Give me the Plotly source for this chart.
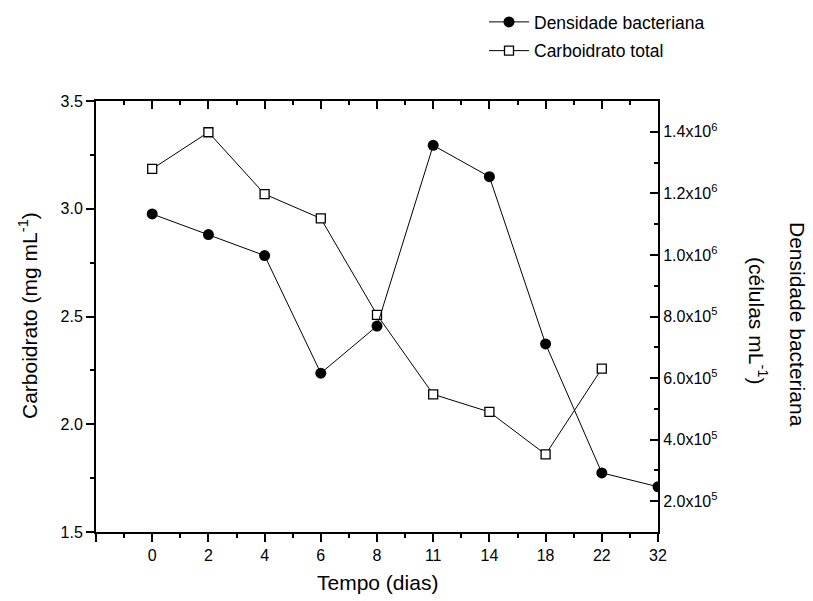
import plotly.graph_objects as go

# ---- data ----
days = ["0", "2", "4", "6", "8", "11", "14", "18", "22", "32"]
density = [1.133e6, 1.066e6, 0.998e6, 6.16e5, 7.69e5, 1.356e6, 1.254e6, 7.11e5, 2.92e5, 2.47e5]
carb = [3.185, 3.355, 3.068, 2.955, 2.508, 2.139, 2.057, 1.860, 2.258]

left_ticks = [1.5, 2.0, 2.5, 3.0, 3.5]
right_ticks = [2e5, 4e5, 6e5, 8e5, 1.0e6, 1.2e6, 1.4e6]
right_ticktext = ["2.0x10<sup>5</sup>", "4.0x10<sup>5</sup>", "6.0x10<sup>5</sup>",
                  "8.0x10<sup>5</sup>", "1.0x10<sup>6</sup>", "1.2x10<sup>6</sup>",
                  "1.4x10<sup>6</sup>"]

xpos = list(range(len(days)))
FONT = "Liberation Sans, Arial, sans-serif"

W, H = 813, 601
ML, MR, MT, MB = 96, 155, 101, 69
pw, ph = W - ML - MR, H - MT - MB

def px_x(px):
    return (px - ML) / pw

def px_y(py):
    return (H - MB - py) / ph

fig = go.Figure()
fig.add_trace(go.Scatter(
    x=xpos, y=density, name="Densidade bacteriana", mode="lines+markers",
    xaxis="x2", yaxis="y2",
    line=dict(color="black", width=1),
    marker=dict(symbol="circle", size=11, color="black"),
    legendgroup="a",
))
fig.add_trace(go.Scatter(
    x=xpos[:len(carb)], y=carb, name="Carboidrato total", mode="lines+markers",
    xaxis="x", yaxis="y",
    line=dict(color="black", width=1),
    marker=dict(symbol="square", size=9, color="white", line=dict(color="black", width=1.3)),
    legendgroup="b",
))

xr = [-1, len(days) - 1]
common_x = dict(range=xr, showgrid=False, zeroline=False, showline=True,
                linecolor="black", linewidth=2,
                tickmode="array", tickvals=list(range(-1, len(days))),
                ticktext=[""] + days, tickcolor="black", tickwidth=2, ticklen=8)

fig.update_layout(
    width=W, height=H,
    margin=dict(l=ML, r=MR, t=MT, b=MB, pad=0, autoexpand=False),
    paper_bgcolor="white", plot_bgcolor="white",
    font=dict(family=FONT, size=16, color="black"),
    showlegend=True,
    legend=dict(x=px_x(484), y=px_y(4), xanchor="left", yanchor="top",
                font=dict(size=17.5, family=FONT, color="black"),
                bgcolor="rgba(0,0,0,0)", tracegroupgap=3, traceorder="grouped",
                itemwidth=40),
    xaxis=dict(**common_x, side="bottom", anchor="y", ticks="outside",
               tickfont=dict(size=16),
               minor=dict(tickmode="linear", tick0=0, dtick=0.5, ticks="outside",
                          ticklen=4, tickwidth=2, tickcolor="black")),
    xaxis2=dict(**common_x, side="top", anchor="y", overlaying="x", ticks="inside",
                showticklabels=False,
                minor=dict(tickmode="linear", tick0=0, dtick=0.5, ticks="inside",
                           ticklen=4, tickwidth=2, tickcolor="black")),
    yaxis=dict(range=[1.5, 3.5], showgrid=False, zeroline=False, showline=True,
               linecolor="black", linewidth=2, ticks="outside", ticklen=8, tickwidth=2,
               tickcolor="black", tickmode="array", tickvals=left_ticks,
               ticktext=[f"{v:.1f}" for v in left_ticks], tickfont=dict(size=16),
               minor=dict(tickmode="linear", tick0=0, dtick=0.25, ticks="outside",
                          ticklen=4, tickwidth=2, tickcolor="black")),
    yaxis2=dict(range=[1e5, 1.5e6], overlaying="y", side="right", anchor="x2",
                showgrid=False, zeroline=False, showline=True,
                linecolor="black", linewidth=2, ticks="inside", ticklen=8, tickwidth=2,
                tickcolor="black", tickmode="array", tickvals=right_ticks,
                ticktext=right_ticktext, tickfont=dict(size=16),
                minor=dict(tickmode="linear", tick0=0, dtick=1e5, ticks="inside",
                           ticklen=4, tickwidth=2, tickcolor="black")),
    annotations=[
        dict(text="Tempo (dias)", xref="paper", yref="paper", x=0.5, y=px_y(582),
             xanchor="center", yanchor="middle", showarrow=False,
             font=dict(size=21, family=FONT)),
        dict(text="Carboidrato (mg mL<sup>-1</sup>)", xref="paper", yref="paper",
             x=px_x(28), y=px_y(316), xanchor="center", yanchor="middle",
             textangle=-90, showarrow=False, font=dict(size=21, family=FONT)),
        dict(text="Densidade bacteriana", xref="paper", yref="paper",
             x=px_x(798), y=px_y(324), xanchor="center", yanchor="middle",
             textangle=90, showarrow=False, font=dict(size=21, family=FONT)),
        dict(text="(células mL<sup>-1</sup>)", xref="paper", yref="paper",
             x=px_x(758), y=px_y(320), xanchor="center", yanchor="middle",
             textangle=90, showarrow=False, font=dict(size=21, family=FONT)),
    ],
)

fig.write_html("out.html")
